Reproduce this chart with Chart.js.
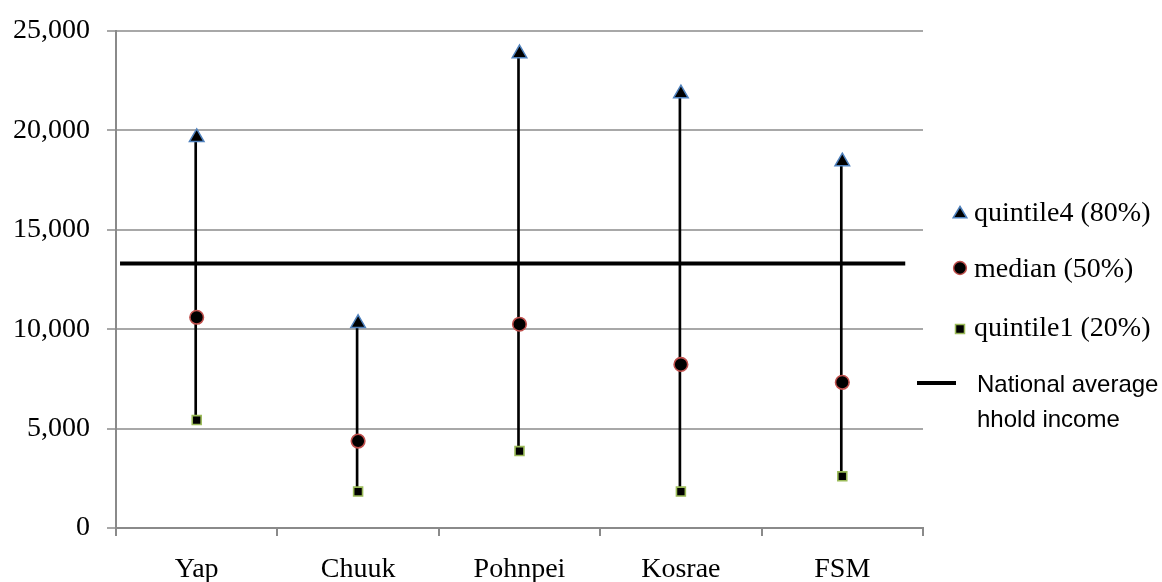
<!DOCTYPE html>
<html>
<head>
<meta charset="utf-8">
<script src="https://cdn.jsdelivr.net/npm/chart.js@4.4.1/dist/chart.umd.min.js"></script>
<style>
    html, body { margin: 0; padding: 0; background: #fff; }
    #wrap { position: relative; width: 1162px; height: 582px; }
    #legend { position: absolute; left: 0; top: 0; width: 1162px; height: 582px; pointer-events: none; }
    .item { position: absolute; font-family: "Liberation Serif", serif; font-size: 28px; line-height: 32px; color: #000; white-space: nowrap; }
    .sans { font-family: "Liberation Sans", sans-serif; font-size: 24px; line-height: 35px; }
    .icon { position: absolute; }
</style>
</head>
<body>
<div id="wrap">
    <canvas id="chart" width="1162" height="582"></canvas>
    <div id="legend"></div>
</div>
<script>
// data
const regions = ["Yap", "Chuuk", "Pohnpei", "Kosrae", "FSM"];
const quintile4 = [19650, 10300, 23870, 21850, 18430];
const median = [10600, 4370, 10250, 8230, 7330];
const quintile1 = [5430, 1830, 3870, 1830, 2600];
const nationalAverage = 13300;
const nationalSpan = [0.025, 4.89]; // where the average line starts/ends, in category units
const yTicks = [0, 5000, 10000, 15000, 20000, 25000];

const serif = "'Liberation Serif', serif";

const ranges = regions.map((r, i) => [quintile1[i], quintile4[i]]);

new Chart(document.getElementById("chart"), {
    type: "bar",
    data: {
        labels: regions,
        datasets: [
            {
                label: "range",
                data: ranges,
                backgroundColor: "#000",
                borderWidth: 0,
                barThickness: 2,
                order: 3
            },
            {
                type: "line",
                label: "National average hhold income",
                xAxisID: "x2",
                data: nationalSpan.map(x => ({ x: x, y: nationalAverage })),
                borderColor: "#000",
                borderWidth: 4,
                borderCapStyle: "butt",
                pointRadius: 0,
                order: 2
            },
            {
                type: "line",
                label: "quintile4 (80%)",
                data: quintile4,
                showLine: false,
                pointStyle: "triangle",
                pointRadius: 8.4,
                pointBorderWidth: 1.5,
                pointBackgroundColor: "#000",
                pointBorderColor: "#4f81bd",
                order: 1
            },
            {
                type: "line",
                label: "median (50%)",
                data: median,
                showLine: false,
                pointStyle: "circle",
                pointRadius: 6.8,
                pointBorderWidth: 1.6,
                pointBackgroundColor: "#000",
                pointBorderColor: "#c0504d",
                order: 1
            },
            {
                type: "line",
                label: "quintile1 (20%)",
                data: quintile1,
                showLine: false,
                pointStyle: "rect",
                pointRadius: 6.3,
                pointBorderWidth: 1.6,
                pointBackgroundColor: "#000",
                pointBorderColor: "#9bbb59",
                order: 1
            }
        ]
    },
    options: {
        responsive: false,
        animation: false,
        events: [],
        layout: {
            padding: { top: 26, right: 239, bottom: 0, left: 0 }
        },
        plugins: {
            legend: { display: false },
            tooltip: { enabled: false }
        },
        scales: {
            x: {
                type: "category",
                offset: true,
                grid: {
                    offset: true,
                    drawOnChartArea: false,
                    drawTicks: true,
                    tickLength: 8,
                    color: "#8a8a8a",
                    lineWidth: 2
                },
                border: { color: "#8a8a8a", width: 2 },
                ticks: {
                    color: "#000",
                    padding: 17,
                    maxRotation: 0,
                    font: { family: serif, size: 28 }
                },
                afterFit: (scale) => { scale.height = 54; }
            },
            x2: {
                type: "linear",
                display: false,
                offset: false,
                bounds: "ticks",
                min: 0,
                max: 5
            },
            y: {
                min: 0,
                max: 25000,
                afterBuildTicks: (scale) => {
                    scale.ticks = yTicks.map(v => ({ value: v }));
                },
                grid: {
                    color: "#a8a8a8",
                    lineWidth: 2,
                    drawTicks: true,
                    tickLength: 9
                },
                border: { color: "#8a8a8a", width: 2 },
                ticks: {
                    color: "#000",
                    padding: 17,
                    font: { family: serif, size: 28, lineHeight: 1 },
                    callback: (v) => Number(v).toLocaleString("en-US")
                },
                afterFit: (scale) => { scale.width = 116; }
            }
        }
    }
});

// legend, drawn as html so the last entry can wrap onto two lines
const legend = document.getElementById("legend");
const legendItems = [
    { text: "quintile4 (80%)", y: 212, icon: '<svg width="16" height="14"><polygon points="8,1.5 14.8,12.8 1.2,12.8" fill="#000" stroke="#4f81bd" stroke-width="1.5"/></svg>', iw: 16, ih: 14 },
    { text: "median (50%)", y: 268, icon: '<svg width="16" height="16"><circle cx="8" cy="8" r="6.4" fill="#000" stroke="#c0504d" stroke-width="1.5"/></svg>', iw: 16, ih: 16 },
    { text: "quintile1 (20%)", y: 327, icon: '<svg width="12" height="12"><rect x="1.5" y="1.5" width="9" height="9" fill="#000" stroke="#9bbb59" stroke-width="1.5"/></svg>', iw: 12, ih: 12 }
];
legendItems.forEach(it => {
    const icon = document.createElement("div");
    icon.className = "icon";
    icon.style.left = (960 - it.iw / 2) + "px";
    icon.style.top = (it.y - it.ih / 2) + "px";
    icon.innerHTML = it.icon;
    legend.appendChild(icon);

    const label = document.createElement("div");
    label.className = "item";
    label.style.left = "974px";
    label.style.top = (it.y - 16) + "px";
    label.textContent = it.text;
    legend.appendChild(label);
});

const natLine = document.createElement("div");
natLine.className = "icon";
natLine.style.left = "917px";
natLine.style.top = "381px";
natLine.style.width = "39px";
natLine.style.height = "4px";
natLine.style.background = "#000";
legend.appendChild(natLine);

const natLabel = document.createElement("div");
natLabel.className = "item sans";
natLabel.style.left = "977px";
natLabel.style.top = "366px";
natLabel.innerHTML = "National average<br>hhold income";
legend.appendChild(natLabel);
</script>
</body>
</html>
